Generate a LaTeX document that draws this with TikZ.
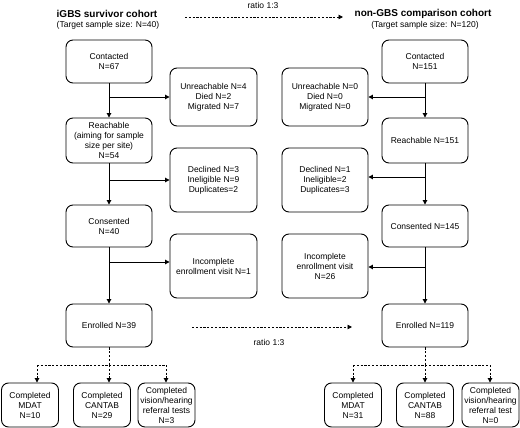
\documentclass[tikz,border=0pt]{standalone}
\usepackage{fontspec}
\setmainfont{Liberation Sans}
\usepackage{tikz}
\usetikzlibrary{arrows.meta}

\begin{document}
\begin{tikzpicture}[->, >={Triangle[length=4.5pt,width=4.5pt]}, line width=0.9pt, x=1pt, y=-1pt,
    font=\fontsize{8.5}{10}\selectfont]
  \tikzstyle{box}=[draw=black,text=black,rounded corners=7pt,align=center,inner sep=1pt]
  \tikzstyle{main}=[box,minimum width=86pt,minimum height=43pt]
  \tikzstyle{side}=[box,minimum width=87pt,minimum height=58pt]
  \tikzstyle{leaf}=[box,minimum width=57pt,minimum height=44pt]
  \tikzstyle{dots}=[dash pattern=on 2.2pt off 1.6pt]
  \tikzstyle{title}=[font=\fontsize{10}{12}\selectfont\bfseries]

  \useasboundingbox (0,0) rectangle (520,428);

  % headings
  \node[title] (tL) at (107,14) {iGBS survivor cohort};
  \node (gL) at (108,25.5) {(Target sample size: N=40)};
  \node[title] (tR) at (423,14) {non-GBS comparison cohort};
  \node (gR) at (425,25.5) {(Target sample size: N=120)};
  \node (rTop) at (263,5) {ratio 1:3};
  \coordinate (aTop) at (185,17);
  \coordinate (bTop) at (343,17);

  % iGBS column
  \node[main] (cL) at (109,61.5) {Contacted\\N=67};
  \node[main,minimum height=45pt] (rL) at (109,140.5) {Reachable\\(aiming for sample\\size per site)\\N=54};
  \node[main,minimum height=42pt] (sL) at (109,226) {Consented\\N=40};
  \node[main] (eL) at (109,325.5) {Enrolled N=39};

  \node[side] (uL) at (213.5,97) {Unreachable N=4\\Died N=2\\Migrated N=7};
  \node[side,minimum height=64pt] (dL) at (213.5,180) {Declined N=3\\Ineligible N=9\\Duplicates=2};
  \node[side,minimum height=64pt] (iL) at (213.5,266) {Incomplete\\enrollment visit N=1};

  \node[leaf] (mL) at (30,405) {Completed\\MDAT\\N=10};
  \node[leaf] (kL) at (102,405) {Completed\\CANTAB\\N=29};
  \node[leaf] (vL) at (166.5,405) {Completed\\vision/hearing\\referral tests\\N=3};

  % non-GBS column
  \node[main] (cR) at (425,61.5) {Contacted\\N=151};
  \node[main,minimum height=45pt] (rR) at (425,140.5) {Reachable N=151};
  \node[main,minimum height=42pt] (sR) at (425,226) {Consented N=145};
  \node[main] (eR) at (425,325.5) {Enrolled N=119};

  \node[side,minimum width=86pt] (uR) at (325,97) {Unreachable N=0\\Died N=0\\Migrated N=0};
  \node[side,minimum width=86pt,minimum height=64pt] (dR) at (325,180) {Declined N=1\\Ineligible=2\\Duplicates=3};
  \node[side,minimum width=86pt,minimum height=64pt] (iR) at (325,266) {Incomplete\\enrollment visit\\N=26};

  \node[leaf] (mR) at (353,405) {Completed\\MDAT\\N=31};
  \node[leaf] (kR) at (425,405) {Completed\\CANTAB\\N=88};
  \node[leaf] (vR) at (490.5,405) {Completed\\vision/hearing\\referral test\\N=0};

  \node (rMid) at (269,342) {ratio 1:3};
  \coordinate (aMid) at (192,327);
  \coordinate (bMid) at (352,327);

  % split points
  \coordinate (jL) at (109,365);
  \coordinate (jL1) at (37,365);
  \coordinate (jL3) at (166,365);
  \coordinate (jR) at (425,365);
  \coordinate (jR1) at (353,365);
  \coordinate (jR3) at (490,365);

  % flow
  \path (cL) edge (rL)
        (rL) edge (sL)
        (sL) edge (eL)
        (cR) edge (rR)
        (rR) edge (sR)
        (sR) edge (eR);

  \path (cL.south |- uL) edge (uL)
        (rL.south |- dL) edge (dL)
        (sL.south |- iL.west) ++(0,-4) edge (iL.west |- 0,262)
        (cR.south |- uR) edge (uR)
        (rR.south |- 0,177) edge (dR.east |- 0,177)
        (sR.south |- 0,267) edge (iR.east |- 0,267);

  % ratio
  \path[dots] (aTop) edge (bTop)
              (aMid) edge (bMid);

  % completed tests
  \draw[dots,-] (eL.south) -- (jL) (jL1) -- (jL3);
  \draw[dots,-] (eR.south) -- (jR) (jR1) -- (jR3);
  \path[dots] (jL1) edge (jL1 |- mL.north)
              (jL) edge (jL |- kL.north)
              (jL3) edge (jL3 |- vL.north)
              (jR1) edge (jR1 |- mR.north)
              (jR) edge (jR |- kR.north)
              (jR3) edge (jR3 |- vR.north);

\end{tikzpicture}
\end{document}
